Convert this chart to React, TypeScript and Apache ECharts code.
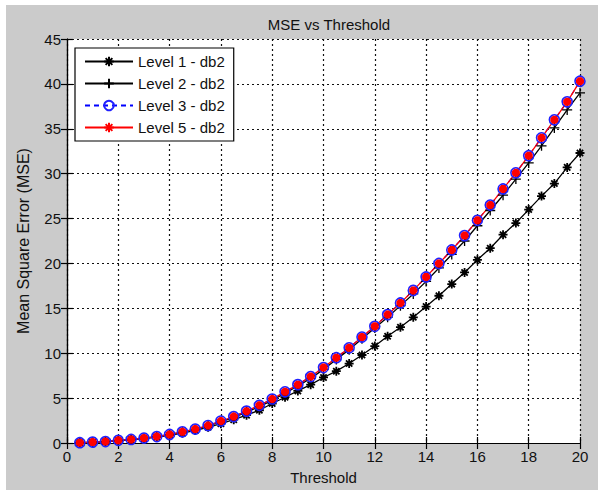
import React, { useEffect, useRef } from "react";
import * as echarts from "echarts";

const thresholds = [0.5, 1, 1.5, 2, 2.5, 3, 3.5, 4, 4.5, 5, 5.5, 6, 6.5, 7, 7.5, 8, 8.5, 9, 9.5, 10, 10.5, 11, 11.5, 12, 12.5, 13, 13.5, 14, 14.5, 15, 15.5, 16, 16.5, 17, 17.5, 18, 18.5, 19, 19.5, 20];

const level1 = [0.03, 0.08, 0.14, 0.24, 0.35, 0.48, 0.65, 0.86, 1.1, 1.4, 1.75, 2.15, 2.6, 3.1, 3.65, 4.4, 5.1, 5.8, 6.5, 7.3, 8.0, 8.85, 9.8, 10.8, 11.9, 12.9, 14.0, 15.2, 16.4, 17.7, 19.0, 20.4, 21.7, 23.2, 24.5, 26.0, 27.5, 28.9, 30.7, 32.3];
const level2 = [0.03, 0.09, 0.15, 0.28, 0.39, 0.53, 0.7, 0.93, 1.2, 1.5, 1.9, 2.35, 2.85, 3.45, 4.05, 4.75, 5.55, 6.35, 7.2, 8.2, 9.3, 10.4, 11.6, 12.8, 14.0, 15.3, 16.6, 18.0, 19.5, 21.0, 22.5, 24.2, 25.9, 27.6, 29.4, 31.2, 33.1, 35.1, 37.1, 39.0];
const level3 = [0.03, 0.1, 0.16, 0.3, 0.4, 0.55, 0.72, 0.95, 1.25, 1.55, 1.95, 2.45, 2.95, 3.55, 4.2, 4.9, 5.7, 6.5, 7.4, 8.4, 9.5, 10.6, 11.8, 13.0, 14.3, 15.6, 17.0, 18.5, 20.0, 21.5, 23.1, 24.8, 26.5, 28.3, 30.1, 32.0, 34.0, 36.0, 38.0, 40.3];
const level5 = [0.03, 0.1, 0.16, 0.3, 0.4, 0.55, 0.72, 0.95, 1.25, 1.55, 1.95, 2.45, 2.95, 3.55, 4.2, 4.9, 5.7, 6.5, 7.4, 8.4, 9.5, 10.6, 11.8, 13.0, 14.3, 15.6, 17.0, 18.5, 20.0, 21.5, 23.1, 24.8, 26.5, 28.3, 30.1, 32.0, 34.0, 36.0, 38.0, 40.3];

const seriesNames = ["Level 1 - db2", "Level 2 - db2", "Level 3 - db2", "Level 5 - db2"];

const xTicks = { min: 0, max: 20, interval: 2 };
const yTicks = { min: 0, max: 45, interval: 5 };

const FONT = "Liberation Sans";

const ASTERISK = "path://M0 5L10 5M5 0L5 10M1.5 1.5L8.5 8.5M8.5 1.5L1.5 8.5";
const PLUS = "path://M0 5L10 5M5 0L5 10";

function pairs(ys: number[]) {
  return thresholds.map((t, i) => [t, ys[i]]);
}

export default function App() {
  const ref = useRef<HTMLDivElement>(null);
  useEffect(() => {
    if (!ref.current) return;
    const chart = echarts.init(ref.current, null, { renderer: "svg" });
    const gridLine = { show: true, lineStyle: { color: "#111", width: 1.2, type: [2, 3] as any } };
    const axisLine = { show: true, lineStyle: { color: "#000", width: 1.2 } };
    const tick = { show: true, inside: true, length: 6, lineStyle: { color: "#000", width: 1.2 } };
    chart.setOption({
      animation: false,
      backgroundColor: "#ffffff",
      textStyle: { fontFamily: FONT },
      graphic: [
        {
          type: "rect",
          z: -10,
          shape: { x: 6, y: 5, width: 592, height: 485 },
          style: { fill: "#cbcbcb" },
          silent: true,
        },
        {
          type: "rect",
          z: -9,
          shape: { x: 67, y: 39, width: 513, height: 404 },
          style: { fill: "#ffffff" },
          silent: true,
        },
      ],
      title: {
        text: "MSE vs Threshold",
        left: 324,
        textAlign: "center",
        top: 12,
        textStyle: { fontFamily: FONT, fontSize: 15, fontWeight: "normal", color: "#111" },
      },
      grid: { left: 67, right: 18, top: 39, bottom: 50, containLabel: false },
      legend: {
        orient: "vertical",
        left: 75,
        top: 48,
        backgroundColor: "#ffffff",
        borderColor: "#000",
        borderWidth: 1.2,
        borderRadius: 0,
        padding: [6, 9, 6, 9],
        itemWidth: 48,
        itemHeight: 12,
        itemGap: 7,
        textStyle: { fontFamily: FONT, fontSize: 15, color: "#111" },
        data: seriesNames,
      },
      xAxis: [
        {
          type: "value",
          min: xTicks.min,
          max: xTicks.max,
          interval: xTicks.interval,
          name: "Threshold",
          nameLocation: "middle",
          nameGap: 27,
          nameTextStyle: { fontFamily: FONT, fontSize: 15, color: "#111" },
          axisLine,
          axisTick: tick,
          axisLabel: { fontFamily: FONT, fontSize: 15, color: "#111", margin: 6 },
          splitLine: gridLine,
        },
        {
          type: "value",
          position: "top",
          min: xTicks.min,
          max: xTicks.max,
          interval: xTicks.interval,
          axisLine,
          axisTick: tick,
          axisLabel: { show: false },
          splitLine: { show: false },
        },
      ],
      yAxis: [
        {
          type: "value",
          min: yTicks.min,
          max: yTicks.max,
          interval: yTicks.interval,
          name: "Mean Square Error (MSE)",
          nameLocation: "middle",
          nameGap: 36,
          nameTextStyle: { fontFamily: FONT, fontSize: 16, color: "#111" },
          axisLine,
          axisTick: tick,
          axisLabel: { fontFamily: FONT, fontSize: 15, color: "#111", margin: 6 },
          splitLine: gridLine,
        },
        {
          type: "value",
          position: "right",
          min: yTicks.min,
          max: yTicks.max,
          interval: yTicks.interval,
          axisLine,
          axisTick: tick,
          axisLabel: { show: false },
          splitLine: { show: false },
        },
      ],
      series: [
        {
          name: seriesNames[0],
          type: "line",
          data: pairs(level1),
          symbol: ASTERISK,
          symbolSize: 9,
          lineStyle: { color: "#000", width: 1.3 },
          itemStyle: { color: "transparent", borderColor: "#000", borderWidth: 1.8 },
        },
        {
          name: seriesNames[1],
          type: "line",
          data: pairs(level2),
          symbol: PLUS,
          symbolSize: 10,
          lineStyle: { color: "#000", width: 1.3 },
          itemStyle: { color: "transparent", borderColor: "#000", borderWidth: 1.3 },
        },
        {
          name: seriesNames[2],
          type: "line",
          data: pairs(level3),
          symbol: "circle",
          symbolSize: 10,
          lineStyle: { color: "#0000ff", width: 1.3, type: [5, 4] as any },
          itemStyle: { color: "transparent", borderColor: "#2020ff", borderWidth: 1.6 },
        },
        {
          name: seriesNames[3],
          type: "line",
          data: pairs(level5),
          symbol: ASTERISK,
          symbolSize: 8,
          lineStyle: { color: "#ff0000", width: 1.3 },
          itemStyle: { color: "#ff0000", borderColor: "#ff0000", borderWidth: 3 },
        },
      ],
    });
    return () => chart.dispose();
  }, []);
  return (
    <div
      ref={ref}
      style={{ position: "absolute", left: 0, top: 0, width: 598, height: 493 }}
    />
  );
}
